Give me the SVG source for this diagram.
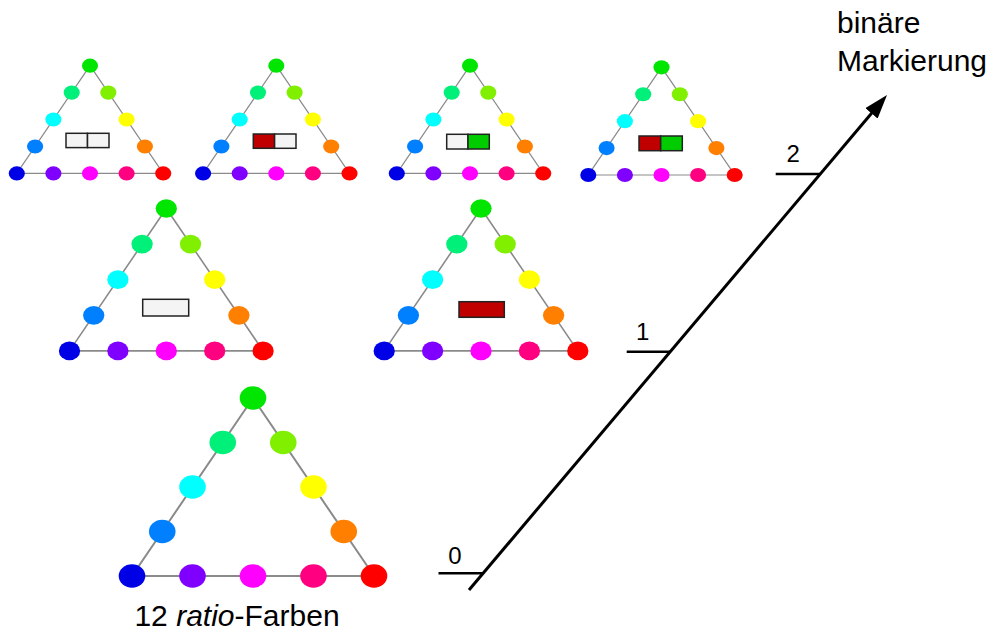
<svg xmlns="http://www.w3.org/2000/svg" xmlns:xlink="http://www.w3.org/1999/xlink" width="996" height="637" viewBox="0 0 996 637">
<style>
.edge{fill:none;stroke:#8a8a8a;stroke-width:2}
.c0{fill:#00e600}.c1{fill:#00f07a}.c2{fill:#00ffff}.c3{fill:#0080ff}.c4{fill:#0000e6}
.c5{fill:#80f000}.c6{fill:#ffff00}.c7{fill:#ff8000}.c8{fill:#ff0000}
.c9{fill:#8000ff}.c10{fill:#ff00ff}.c11{fill:#ff0080}
.mk{stroke:#222;stroke-width:1.5}
.empty{fill:#f4f4f4}.red{fill:#c00000}.green{fill:#00cc00}
.axis{stroke:#000;stroke-width:3;fill:none}
.tick{stroke:#000;stroke-width:2.5}
.lbl{font-family:"Liberation Sans",Arial,sans-serif;fill:#000}
</style>
<defs>
<g id="tri">
<polygon class="edge" points="0,0 -121,178 121,178"/>
<ellipse class="c0" cx="0" cy="0" rx="13.3" ry="11.7"/>
<ellipse class="c1" cx="-30.25" cy="44.5" rx="13.3" ry="11.7"/>
<ellipse class="c2" cx="-60.5" cy="89" rx="13.3" ry="11.7"/>
<ellipse class="c3" cx="-90.75" cy="133.5" rx="13.3" ry="11.7"/>
<ellipse class="c4" cx="-121" cy="178" rx="13.3" ry="11.7"/>
<ellipse class="c5" cx="30.25" cy="44.5" rx="13.3" ry="11.7"/>
<ellipse class="c6" cx="60.5" cy="89" rx="13.3" ry="11.7"/>
<ellipse class="c7" cx="90.75" cy="133.5" rx="13.3" ry="11.7"/>
<ellipse class="c8" cx="121" cy="178" rx="13.3" ry="11.7"/>
<ellipse class="c9" cx="-60.5" cy="178" rx="13.3" ry="11.7"/>
<ellipse class="c10" cx="0" cy="178" rx="13.3" ry="11.7"/>
<ellipse class="c11" cx="60.5" cy="178" rx="13.3" ry="11.7"/>
</g>
<marker id="arrow" markerUnits="userSpaceOnUse" markerWidth="24" markerHeight="16" refX="4" refY="8" orient="auto">
<path d="M0,0 L24,8 L0,16 z" fill="#000"/>
</marker>
</defs>

<g id="small-1">
<use xlink:href="#tri" href="#tri" transform="translate(90,65.7) scale(0.605)"/>
<rect class="mk empty" x="66" y="133.3" width="21.5" height="14.3"/>
<rect class="mk empty" x="87.5" y="133.3" width="21.5" height="14.3"/>
</g>
<g id="small-2">
<use xlink:href="#tri" href="#tri" transform="translate(276.3,65.7) scale(0.605)"/>
<rect class="mk red" x="253.3" y="134" width="21.3" height="14.3"/>
<rect class="mk empty" x="274.6" y="134" width="21.4" height="14.3"/>
</g>
<g id="small-3">
<use xlink:href="#tri" href="#tri" transform="translate(470,65.7) scale(0.605)"/>
<rect class="mk empty" x="446.7" y="134.3" width="21.3" height="14.7"/>
<rect class="mk green" x="468" y="134.3" width="21.3" height="14.7"/>
</g>
<g id="small-4">
<use xlink:href="#tri" href="#tri" transform="translate(661.5,67.3) scale(0.605)"/>
<rect class="mk red" x="639" y="136" width="21.7" height="14.7"/>
<rect class="mk green" x="660.7" y="136" width="21.6" height="14.7"/>
</g>
<g id="mid-1">
<use xlink:href="#tri" href="#tri" transform="translate(166.3,208.5) scale(0.8)"/>
<rect class="mk empty" x="142.7" y="299.3" width="46" height="16.7"/>
</g>
<g id="mid-2">
<use xlink:href="#tri" href="#tri" transform="translate(481,208.5) scale(0.8)"/>
<rect class="mk red" x="459" y="301.7" width="45.3" height="15.6"/>
</g>
<g id="big">
<use xlink:href="#tri" href="#tri" transform="translate(253,398)"/>
</g>

<g id="connectors">
<line class="axis" x1="469" y1="590" x2="874.1" y2="110.3" marker-end="url(#arrow)"/>
<line class="tick" x1="438.5" y1="573.3" x2="483" y2="573.3"/>
<line class="tick" x1="626.7" y1="351.7" x2="670.3" y2="351.7"/>
<line class="tick" x1="775.7" y1="174" x2="820.4" y2="174"/>
</g>

<g id="labels">
<text class="lbl" x="455" y="564" font-size="24" text-anchor="middle">0</text>
<text class="lbl" x="642.7" y="340" font-size="24" text-anchor="middle">1</text>
<text class="lbl" x="793.3" y="161.7" font-size="24" text-anchor="middle">2</text>
<text class="lbl" x="837" y="33" font-size="30">binäre</text>
<text class="lbl" x="837" y="71" font-size="30">Markierung</text>
<text class="lbl" x="237" y="626" font-size="30" text-anchor="middle">12 <tspan font-style="italic">ratio</tspan>-Farben</text>
</g>
</svg>
